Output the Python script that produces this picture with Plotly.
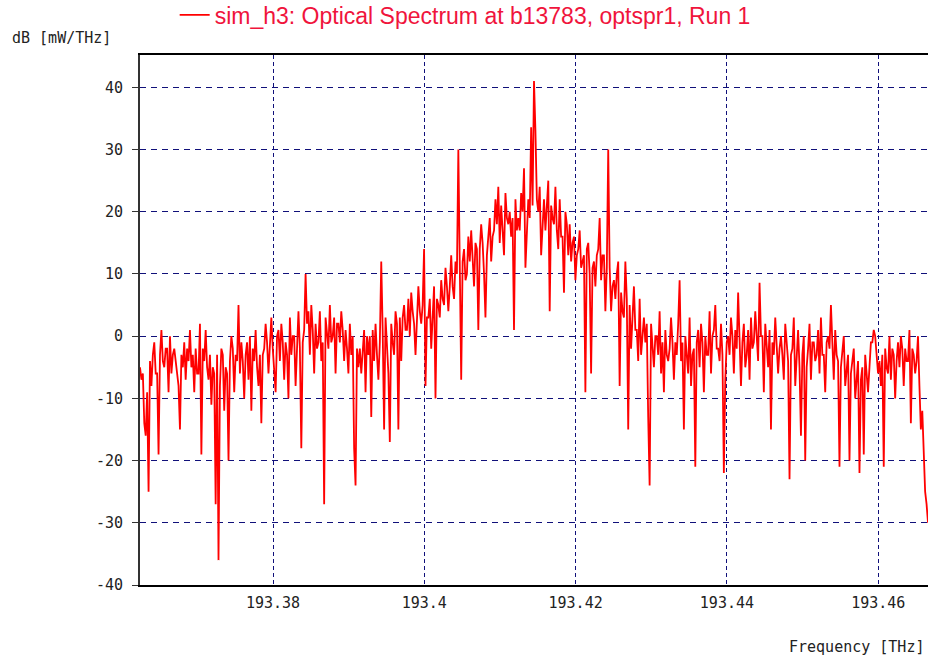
import plotly.graph_objects as go
import numpy as np

# Frequency grid (THz) covering the displayed span
freq_start = 193.36242
freq_stop = 193.46658

# Spectrum values (dB [mW/THz]), left to right
power_db = [
    -5, -7, -6, -14, -16, -9, -25,
    -4, -8, -3, -1, -6, -6, -19,
    -3, 1, -4, -5, -2, -2, -9,
    0, -6, -3, -2, -4, -5, -8,
    -15, -3, -5, -1, -7, -2, -4,
    1, -5, -3, -9, -2, -6, -6,
    2, -19, -2, -4, 1, -5, -7,
    -3, -11, -5, -6, -27, -3, -36,
    -8, -2, -3, -12, -5, -6, -20,
    -4, 0, -2, -9, -3, -4, 5,
    -6, -1, -4, -10, -3, -1, -7,
    0, -12, -2, -4, 1, -5, -8,
    -3, -14, -3, -2, 2, -1, -6,
    -1, 3, -2, -5, -9, 0, 1,
    -4, 2, -1, -7, -1, -3, -10,
    3, -3, 0, 0, -8, -2, 4,
    -2, -18, -1, 1, 10, 2, 4,
    -3, 5, 1, -6, 2, -2, -1,
    4, -4, -1, -27, 3, 1, -2,
    5, -1, 0, 3, -6, 2, 2,
    -1, 4, 1, -4, 1, -2, -6,
    2, -3, 0, -18, -24, -2, -5,
    -2, -6, -2, 1, -9, 0, -3,
    0, -13, 1, -4, 2, -3, -7,
    -1, 12, 1, -15, 3, -2, -6,
    -17, 2, -1, -3, 4, 2, -15,
    3, -4, 3, 5, 1, 1, 6,
    0, 7, 4, 2, -3, 2, 8,
    4, 2, 5, 14, -8, 3, 3,
    6, -2, 3, 8, -10, 6, 5,
    3, 9, 6, 5, 11, 8, 4,
    8, 13, 8, 6, 12, 10, 30,
    10, -7, 12, 14, 9, 10, 16,
    12, 17, 12, 8, 15, 14, 1,
    14, 18, 15, 10, 3, 13, 16,
    19, 12, 16, 17, 22, 18, 24,
    15, 21, 17, 13, 23, 19, 18,
    20, 16, 19, 1, 22, 17, 19,
    17, 23, 20, 27, 11, 18, 22,
    19, 33.6, 21, 41, 33, 22, 20,
    24, 13, 19, 22, 17, 21, 25,
    4, 21, 19, 18, 24, 17, 14,
    22, 16, 16, 7, 20, 18, 13,
    18, 12, 15, 16, 9, 13, 14,
    17, 11, 12, 13, -9, 14, 15,
    10, -6, 11, 12, 8, 13, 14,
    19, 9, 13, 13, 4, 11, 30,
    11, 4, 8, 9, 6, 10, 12,
    -8, 7, 4, 3, 12, 6, -15,
    5, -2, 3, 8, 1, 1, -4,
    6, -3, 0, 3, -1, 2, -13,
    -24, 2, -2, -5, 0, 0, -3,
    4, -6, -1, -9, 1, -3, -4,
    -2, 3, -1, -7, -1, -3, 2,
    9, -4, -1, -15, 0, -3, -6,
    3, -8, -3, -2, -21, -1, 1,
    -5, 2, -1, -9, 0, -3, -3,
    4, -6, 0, 1, 5, -2, -2,
    -4, 2, -3, -22, -7, -1, 0,
    -3, 3, 0, -6, 1, -2, 7,
    -2, -8, -1, 2, -5, -3, 1,
    -7, 3, -2, -1, 4, 0, -4,
    8.6, 0, 0, -9, 2, -2, -5,
    1, -15, -1, -3, 3, -3, -6,
    -2, 0, -3, -7, 2, -1, -4,
    -23, -3, -2, 3, -8, -4, 1,
    -5, -16, -3, 0, -20, -5, -2,
    2, -7, -1, -1, -4, -3, 1,
    -6, 3, -3, -3, -9, -1, 0,
    -2, 5, -1, -7, 1, -3, -4,
    -21, -5, -3, 0, -8, -5, -3,
    -20, -6, -4, -2, -10, -6, -4,
    -22, -7, -5, -19, -3, -7, -9,
    -5, -1, -1, 1, 0, -3, -6,
    -4, -8, -3, -21, -2, -5, -6,
    0, -7, -2, -3, -10, -4, -1,
    -5, 0, -2, -8, -2, -4, -4,
    1, -14, -2, -3, -6, -4, 0,
    -8, -15, -12, -19, -25, -27, -30,
]

x_tick_vals = [193.38, 193.40, 193.42, 193.44, 193.46]
x_tick_text = ["193.38", "193.4", "193.42", "193.44", "193.46"]
y_tick_vals = [-40, -30, -20, -10, 0, 10, 20, 30, 40]
y_tick_text = ["-40", "-30", "-20", "-10", "0", "10", "20", "30", "40"]

series_name = "sim_h3: Optical Spectrum at b13783, optspr1, Run 1"

freqs = np.linspace(freq_start, freq_stop, len(power_db))

fig = go.Figure()
fig.add_trace(go.Scatter(
    x=freqs, y=power_db, mode="lines", name=series_name,
    line=dict(color="#ff0000", width=1.8),
    showlegend=True,
))

mono = "DejaVu Sans Mono"
grid_col = "#10107a"

fig.update_layout(
    width=929, height=659,
    margin=dict(l=140, r=1, t=55, b=74, autoexpand=False),
    paper_bgcolor="white", plot_bgcolor="white",
    showlegend=True,
    legend=dict(
        x=0.044, y=1.0755, xanchor="left", yanchor="middle",
        font=dict(family="Liberation Sans", size=23, color="#f0143c"),
        bgcolor="rgba(0,0,0,0)", borderwidth=0, itemwidth=30,
    ),
    xaxis=dict(
        range=[freq_start, freq_stop],
        tickvals=x_tick_vals, ticktext=x_tick_text,
        showgrid=True, gridcolor=grid_col, gridwidth=1, griddash="4px,3px",
        zeroline=False,
        showline=True, linecolor="black", linewidth=1.5, mirror=True,
        ticks="", ticklabelstandoff=3,
        tickfont=dict(family=mono, size=15, color="#222222"),
    ),
    yaxis=dict(
        range=[-40, 45.2],
        tickvals=y_tick_vals, ticktext=y_tick_text,
        showgrid=True, gridcolor=grid_col, gridwidth=1, griddash="6px,5px",
        zeroline=False,
        showline=True, linecolor="#333333", linewidth=2,
        ticks="outside", ticklen=6, tickcolor="#333333", tickwidth=1,
        ticklabelstandoff=6,
        tickfont=dict(family=mono, size=15, color="#222222"),
    ),
    annotations=[
        dict(text="dB [mW/THz]", xref="paper", yref="paper",
             x=-0.165, y=1.032, xanchor="left", yanchor="middle",
             showarrow=False, font=dict(family=mono, size=15, color="#222222")),
        dict(text="Frequency [THz]", xref="paper", yref="paper",
             x=0.997, y=-0.117, xanchor="right", yanchor="middle",
             showarrow=False, font=dict(family=mono, size=15, color="#222222")),
    ],
)

fig.write_html("out.html")
